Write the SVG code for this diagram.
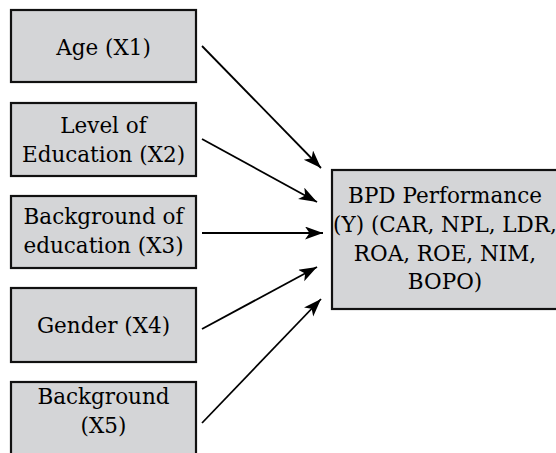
<svg xmlns="http://www.w3.org/2000/svg" width="556" height="453" viewBox="0 0 556 453">
<style>
.box{fill:#d4d5d7;stroke:#111;stroke-width:2.2}
.t{font-family:"DejaVu Serif","Liberation Serif",serif;font-size:21.5px;fill:#000;text-anchor:middle}
.c{stroke:#000;stroke-width:1.8;fill:none;marker-end:url(#ah)}
</style>
<defs>
<marker id="ah" markerUnits="userSpaceOnUse" markerWidth="20" markerHeight="14" refX="18" refY="6.5" orient="auto">
<path d="M0,0 L18,6.5 L0,13 L4.5,6.5 Z" fill="#000"/>
</marker>
</defs>
<rect width="556" height="453" fill="#fff"/>
<g id="x1"><rect class="box" x="11" y="10" width="185" height="72"/><text class="t" x="103.5" y="55">Age (X1)</text></g>
<g id="x2"><rect class="box" x="11" y="103" width="185" height="73"/><text class="t" x="103.5" y="133">Level of</text><text class="t" x="103.5" y="162">Education (X2)</text></g>
<g id="x3"><rect class="box" x="11" y="196" width="185" height="72"/><text class="t" x="103.5" y="224">Background of</text><text class="t" x="103.5" y="253">education (X3)</text></g>
<g id="x4"><rect class="box" x="11" y="288" width="185" height="74"/><text class="t" x="103.5" y="333">Gender (X4)</text></g>
<g id="x5"><rect class="box" x="11" y="382" width="185" height="80"/><text class="t" x="103.5" y="404">Background</text><text class="t" x="103.5" y="433">(X5)</text></g>
<g id="y"><rect class="box" x="332" y="170" width="226" height="139"/><text class="t" x="445" y="203">BPD Performance</text><text class="t" x="445" y="232">(Y) (CAR, NPL, LDR,</text><text class="t" x="445" y="261">ROA, ROE, NIM,</text><text class="t" x="445" y="289">BOPO)</text></g>
<g id="connectors">
<line class="c" x1="202" y1="46" x2="321" y2="168"/>
<line class="c" x1="202" y1="139" x2="317" y2="202"/>
<line class="c" x1="202" y1="233" x2="323" y2="233"/>
<line class="c" x1="202" y1="329" x2="317" y2="267"/>
<line class="c" x1="202" y1="423" x2="321" y2="299"/>
</g>
</svg>
